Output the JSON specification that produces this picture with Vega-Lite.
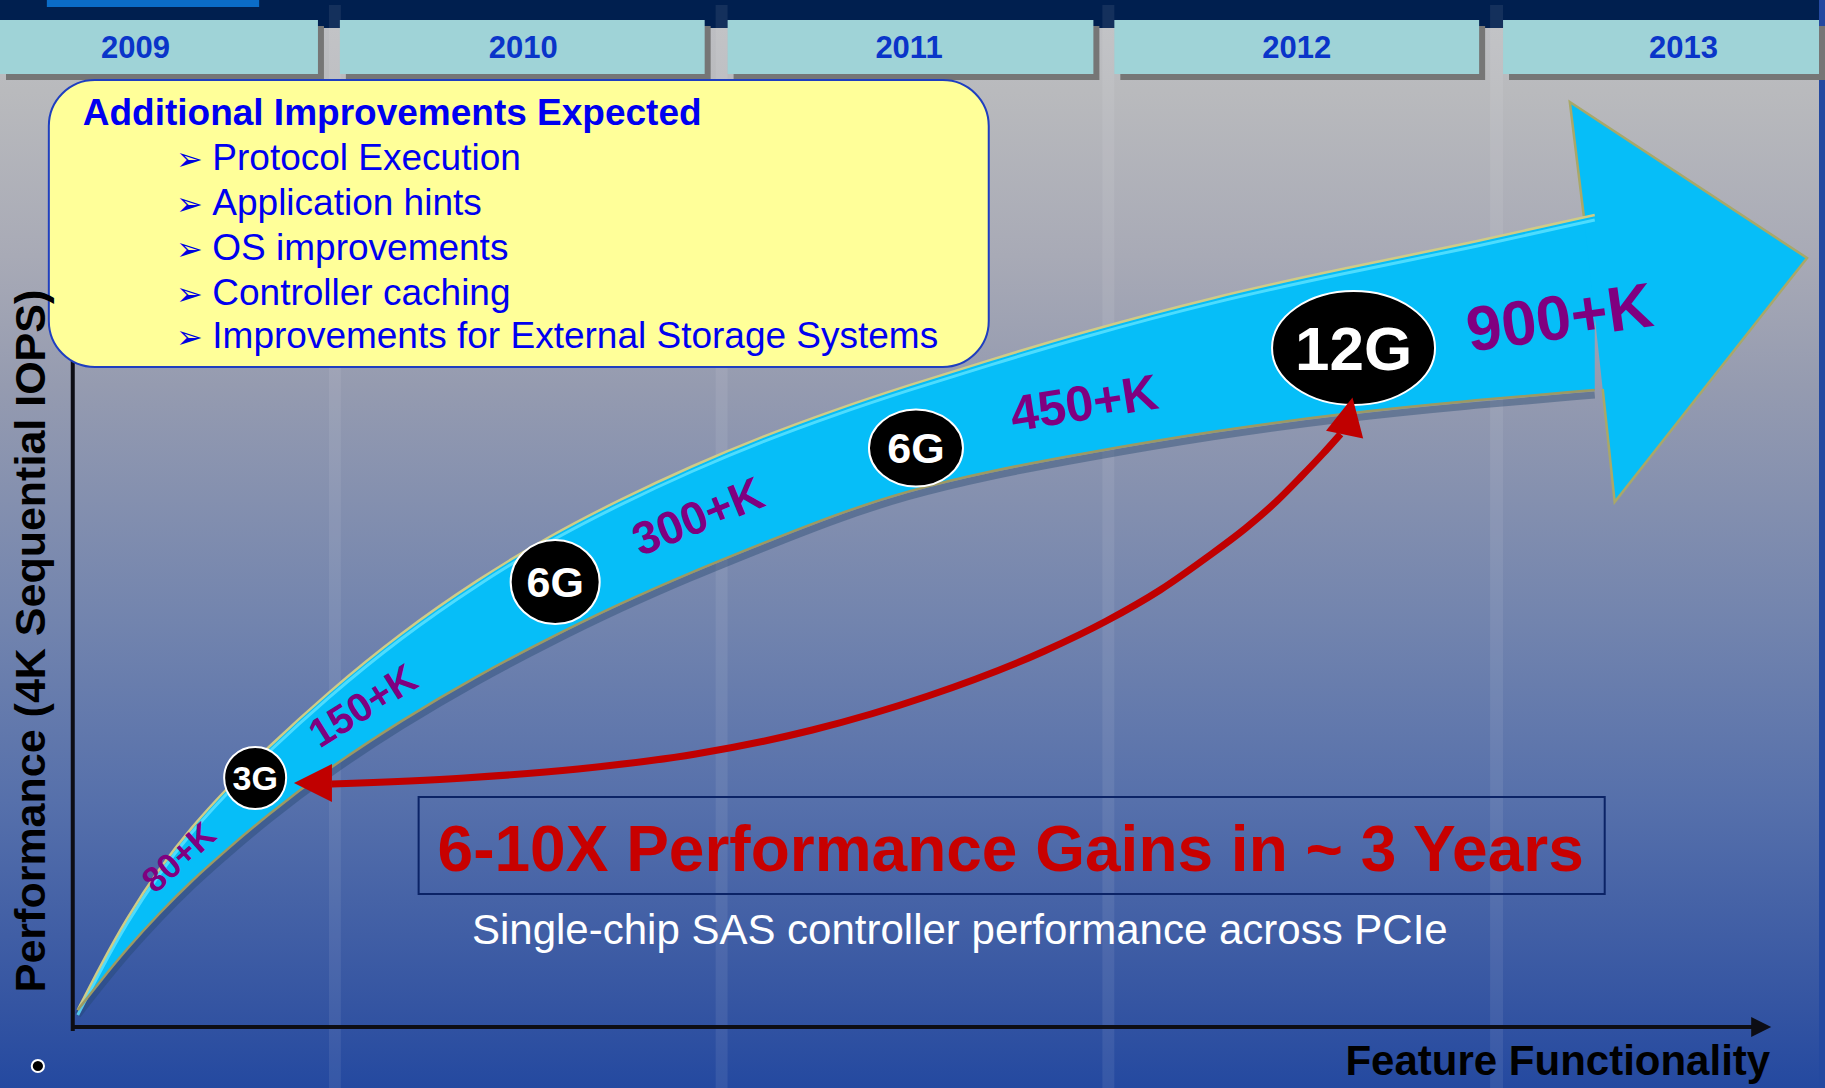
{
  "$schema": "https://vega.github.io/schema/vega-lite/v6.json",
  "autosize": {"type": "fit", "contains": "padding"},
  "width": 1825,
  "height": 1088,
  "padding": 0,
  "background": "#2449a0",
  "config": {"view": {"stroke": null}, "text": {"font": "Liberation Sans"}},
  "datasets": {
    "body": [
      {"x": 78, "y": 1010, "y2": 1010}, {"x": 100, "y": 967, "y2": 982}, {"x": 127, "y": 918, "y2": 949},
      {"x": 160, "y": 868, "y2": 913}, {"x": 193, "y": 826, "y2": 880}, {"x": 227, "y": 789, "y2": 850},
      {"x": 267, "y": 749, "y2": 816}, {"x": 327, "y": 694, "y2": 770}, {"x": 403, "y": 632, "y2": 720},
      {"x": 480, "y": 579, "y2": 675}, {"x": 551, "y": 536, "y2": 638}, {"x": 623, "y": 499, "y2": 603},
      {"x": 694, "y": 466, "y2": 572}, {"x": 766, "y": 436, "y2": 543}, {"x": 837, "y": 410, "y2": 515},
      {"x": 909, "y": 386, "y2": 491}, {"x": 993, "y": 360, "y2": 471}, {"x": 1083, "y": 333, "y2": 454},
      {"x": 1217, "y": 297, "y2": 431}, {"x": 1350, "y": 268, "y2": 413}, {"x": 1470, "y": 244, "y2": 401},
      {"x": 1600, "y": 215, "y2": 390}
    ],
    "head": [
      {"i": 1, "x": 1608, "y": 389}, {"i": 2, "x": 1620, "y": 502}, {"i": 3, "x": 1813, "y": 258},
      {"i": 4, "x": 1575, "y": 102}, {"i": 5, "x": 1589, "y": 216}
    ],
    "tabs": [
      {"year": "2009", "x": 0, "x2": 319, "y": 20, "y2": 74, "tx": 136},
      {"year": "2010", "x": 341, "x2": 707, "y": 20, "y2": 74, "tx": 525},
      {"year": "2011", "x": 730, "x2": 1097, "y": 20, "y2": 74, "tx": 912},
      {"year": "2012", "x": 1118, "x2": 1484, "y": 20, "y2": 74, "tx": 1301},
      {"year": "2013", "x": 1508, "x2": 1825, "y": 20, "y2": 74, "tx": 1689}
    ],
    "stripes": [
      {"x": 330, "x2": 342, "y": 5, "y2": 1088}, {"x": 718, "x2": 730, "y": 5, "y2": 1088},
      {"x": 1106, "x2": 1118, "y": 5, "y2": 1088}, {"x": 1495, "x2": 1508, "y": 5, "y2": 1088}
    ],
    "boxlines": [
      {"t": "Protocol Execution", "x": 213, "bx": 190, "y": 170}, {"t": "Application hints", "x": 213, "bx": 190, "y": 215},
      {"t": "OS improvements", "x": 213, "bx": 190, "y": 260}, {"t": "Controller caching", "x": 213, "bx": 190, "y": 305},
      {"t": "Improvements for External Storage Systems", "x": 213, "bx": 190, "y": 348}
    ],
    "chips": [
      {"id": "a", "chip": "3G", "x": 256, "y": 778}, {"id": "b", "chip": "6G", "x": 557, "y": 582},
      {"id": "c", "chip": "6G", "x": 919, "y": 448}, {"id": "d", "chip": "12G", "x": 1358, "y": 348}
    ],
    "red": [
      {"x": 333, "y": 784}, {"x": 466, "y": 778}, {"x": 580, "y": 769}, {"x": 698, "y": 754},
      {"x": 815, "y": 730}, {"x": 931, "y": 696}, {"x": 1048, "y": 651}, {"x": 1110, "y": 621},
      {"x": 1164, "y": 590}, {"x": 1210, "y": 558}, {"x": 1250, "y": 528}, {"x": 1280, "y": 502},
      {"x": 1305, "y": 477}, {"x": 1327, "y": 454}, {"x": 1345, "y": 434}
    ]
  },
  "encoding": {
    "x": {"field": "x", "type": "quantitative", "scale": {"domain": [0, 1825], "nice": false, "zero": false}, "axis": null},
    "y": {"field": "y", "type": "quantitative", "scale": {"domain": [0, 1088], "nice": false, "zero": false, "reverse": true}, "axis": null}
  },
  "layer": [
    {
      "data": {"values": [{"x": 0, "x2": 1825, "y": 28, "y2": 1088}]},
      "mark": {"type": "rect", "fill": {"gradient": "linear", "x1": 0, "y1": 0, "x2": 0, "y2": 1, "stops": [
        {"offset": 0, "color": "#bdbec2"}, {"offset": 0.06, "color": "#b9babd"}, {"offset": 0.215, "color": "#a8aab6"},
        {"offset": 0.337, "color": "#959bb0"}, {"offset": 0.56, "color": "#7284ae"}, {"offset": 0.73, "color": "#5670ab"},
        {"offset": 0.92, "color": "#3555a2"}, {"offset": 1, "color": "#2449a0"}]}},
      "encoding": {"x2": {"field": "x2"}, "y2": {"field": "y2"}}
    },
    {
      "data": {"values": [{"x": 0, "x2": 1825, "y": 0, "y2": 28}]},
      "mark": {"type": "rect", "fill": "#001f4f"},
      "encoding": {"x2": {"field": "x2"}, "y2": {"field": "y2"}}
    },
    {
      "data": {"values": [{"x": 47, "x2": 260, "y": 0, "y2": 7}]},
      "mark": {"type": "rect", "fill": "#0b6cc7"},
      "encoding": {"x2": {"field": "x2"}, "y2": {"field": "y2"}}
    },
    {
      "data": {"name": "stripes"},
      "mark": {"type": "rect", "fill": "#ffffff", "opacity": 0.08},
      "encoding": {"x2": {"field": "x2"}, "y2": {"field": "y2"}}
    },
    {
      "data": {"name": "tabs"},
      "mark": {"type": "rect", "fill": "#767676", "xOffset": 6, "x2Offset": 6, "yOffset": 6, "y2Offset": 6},
      "encoding": {"x2": {"field": "x2"}, "y2": {"field": "y2"}}
    },
    {
      "data": {"name": "tabs"},
      "mark": {"type": "rect", "fill": "#9fd3d7"},
      "encoding": {"x2": {"field": "x2"}, "y2": {"field": "y2"}}
    },
    {
      "data": {"name": "tabs"},
      "mark": {"type": "text", "fontSize": 31, "fontWeight": "bold", "fill": "#0a35c9", "align": "center", "baseline": "alphabetic", "dy": 11},
      "encoding": {"x": {"field": "tx", "type": "quantitative"}, "y": {"datum": 47}, "text": {"field": "year"}}
    },
    {
      "data": {"values": [{"x": 73, "y": 330, "y2": 1031}]},
      "mark": {"type": "rule", "stroke": "#0d0d14", "strokeWidth": 4},
      "encoding": {"y2": {"field": "y2"}}
    },
    {
      "data": {"values": [{"x": 73, "x2": 1762, "y": 1027}]},
      "mark": {"type": "rule", "stroke": "#0d0d14", "strokeWidth": 4},
      "encoding": {"x2": {"field": "x2"}}
    },
    {
      "data": {"values": [{"x": 1767, "y": 1027}]},
      "mark": {"type": "point", "shape": "M 1 0 L -1 -1 L -1 1 Z", "size": 400, "filled": true, "fill": "#0d0d14", "opacity": 1, "strokeWidth": 0}
    },
    {
      "data": {"name": "body"},
      "mark": {"type": "line", "interpolate": "basis", "stroke": "#23456e", "strokeWidth": 7, "opacity": 0.4, "yOffset": 5},
      "encoding": {"y": {"field": "y2", "type": "quantitative"}}
    },
    {
      "data": {"name": "body"},
      "mark": {"type": "area", "interpolate": "basis", "fill": "#06bef8", "opacity": 1},
      "encoding": {"y2": {"field": "y2"}}
    },
    {
      "data": {"name": "head"},
      "mark": {"type": "line", "filled": true, "fill": "#06bef8", "stroke": "#a9a868", "strokeWidth": 2.5, "strokeJoin": "miter", "opacity": 1},
      "encoding": {"order": {"field": "i", "type": "quantitative"}}
    },
    {
      "data": {"name": "body"},
      "mark": {"type": "line", "interpolate": "basis", "stroke": "#5fe4ff", "strokeWidth": 3, "opacity": 0.8, "yOffset": 5}
    },
    {
      "data": {"name": "body"},
      "mark": {"type": "line", "interpolate": "basis", "stroke": "#cfcc86", "strokeWidth": 2.5}
    },
    {
      "data": {"name": "body"},
      "mark": {"type": "line", "interpolate": "basis", "stroke": "#9c9a63", "strokeWidth": 2.5},
      "encoding": {"y": {"field": "y2", "type": "quantitative"}}
    },
    {
      "data": {"values": [{"x": 49, "x2": 992, "y": 80, "y2": 367}]},
      "mark": {"type": "rect", "fill": "#ffff99", "stroke": "#1f3fc0", "strokeWidth": 2, "cornerRadius": 46},
      "encoding": {"x2": {"field": "x2"}, "y2": {"field": "y2"}}
    },
    {
      "data": {"values": [{"x": 83, "y": 125, "t": "Additional Improvements Expected"}]},
      "mark": {"type": "text", "fontSize": 37, "fontWeight": "bold", "fill": "#0000f0", "align": "left", "baseline": "alphabetic"},
      "encoding": {"text": {"field": "t"}}
    },
    {
      "data": {"name": "boxlines"},
      "mark": {"type": "text", "text": "➢", "font": "DejaVu Sans", "fontSize": 32, "fill": "#0000e0", "align": "center", "baseline": "alphabetic", "dy": 0},
      "encoding": {"x": {"field": "bx", "type": "quantitative"}}
    },
    {
      "data": {"name": "boxlines"},
      "mark": {"type": "text", "fontSize": 37, "fill": "#0000f0", "align": "left", "baseline": "alphabetic"},
      "encoding": {"text": {"field": "t"}}
    },
    {
      "data": {"name": "chips"},
      "mark": {"type": "point", "size": 10000, "filled": true, "fill": "#000000", "stroke": "#ffffff", "strokeWidth": 2, "opacity": 1},
      "encoding": {"shape": {"field": "id", "type": "nominal", "legend": null, "scale": {"domain": ["a", "b", "c", "d"], "range": [
        "M -0.62 0 A 0.62 0.62 0 1 0 0.62 0 A 0.62 0.62 0 1 0 -0.62 0 Z",
        "M -0.89 0 A 0.89 0.84 0 1 0 0.89 0 A 0.89 0.84 0 1 0 -0.89 0 Z",
        "M -0.94 0 A 0.94 0.77 0 1 0 0.94 0 A 0.94 0.77 0 1 0 -0.94 0 Z",
        "M -1.63 0 A 1.63 1.14 0 1 0 1.63 0 A 1.63 1.14 0 1 0 -1.63 0 Z"]}}}
    },
    {
      "data": {"name": "chips"},
      "transform": [{"filter": "datum.id === 'a'"}],
      "mark": {"type": "text", "fontSize": 34, "fontWeight": "bold", "fill": "#ffffff", "align": "center", "baseline": "middle", "dy": 2},
      "encoding": {"text": {"field": "chip"}}
    },
    {
      "data": {"name": "chips"},
      "transform": [{"filter": "datum.id === 'b' || datum.id === 'c'"}],
      "mark": {"type": "text", "fontSize": 43, "fontWeight": "bold", "fill": "#ffffff", "align": "center", "baseline": "middle", "dy": 2},
      "encoding": {"text": {"field": "chip"}}
    },
    {
      "data": {"name": "chips"},
      "transform": [{"filter": "datum.id === 'd'"}],
      "mark": {"type": "text", "fontSize": 62, "fontWeight": "bold", "fill": "#ffffff", "align": "center", "baseline": "middle", "dy": 3},
      "encoding": {"text": {"field": "chip"}}
    },
    {
      "data": {"values": [{"x": 180, "y": 858, "t": "80+K"}]},
      "mark": {"type": "text", "fontSize": 35, "fontWeight": "bold", "fill": "#800080", "align": "center", "baseline": "middle", "angle": 318},
      "encoding": {"text": {"field": "t"}}
    },
    {
      "data": {"values": [{"x": 365, "y": 707, "t": "150+K"}]},
      "mark": {"type": "text", "fontSize": 40, "fontWeight": "bold", "fill": "#800080", "align": "center", "baseline": "middle", "angle": 328},
      "encoding": {"text": {"field": "t"}}
    },
    {
      "data": {"values": [{"x": 701, "y": 518, "t": "300+K"}]},
      "mark": {"type": "text", "fontSize": 46, "fontWeight": "bold", "fill": "#800080", "align": "center", "baseline": "middle", "angle": 338},
      "encoding": {"text": {"field": "t"}}
    },
    {
      "data": {"values": [{"x": 1088, "y": 405, "t": "450+K"}]},
      "mark": {"type": "text", "fontSize": 50, "fontWeight": "bold", "fill": "#800080", "align": "center", "baseline": "middle", "angle": 351},
      "encoding": {"text": {"field": "t"}}
    },
    {
      "data": {"values": [{"x": 1565, "y": 320, "t": "900+K"}]},
      "mark": {"type": "text", "fontSize": 63, "fontWeight": "bold", "fill": "#800080", "align": "center", "baseline": "middle", "angle": 352},
      "encoding": {"text": {"field": "t"}}
    },
    {
      "data": {"name": "red"},
      "mark": {"type": "line", "interpolate": "monotone", "stroke": "#c00000", "strokeWidth": 7}
    },
    {
      "data": {"values": [{"x": 314, "y": 783}]},
      "mark": {"type": "point", "shape": "M -1 0 L 1 -1 L 1 1 Z", "size": 1444, "filled": true, "fill": "#c00000", "opacity": 1, "strokeWidth": 0}
    },
    {
      "data": {"values": [{"x": 1353, "y": 416}]},
      "mark": {"type": "point", "shape": "M 0 -1 L 1 1 L -1 1 Z", "size": 1444, "angle": 12, "filled": true, "fill": "#c00000", "opacity": 1, "strokeWidth": 0}
    },
    {
      "data": {"values": [{"x": 420, "x2": 1610, "y": 797, "y2": 894}]},
      "mark": {"type": "rect", "fill": null, "fillOpacity": 0, "stroke": "#0b2366", "strokeWidth": 2},
      "encoding": {"x2": {"field": "x2"}, "y2": {"field": "y2"}}
    },
    {
      "data": {"values": [{"x": 1014, "y": 871, "t": "6-10X Performance Gains in ~ 3 Years"}]},
      "mark": {"type": "text", "fontSize": 64, "fontWeight": "bold", "fill": "#c80000", "align": "center", "baseline": "alphabetic"},
      "encoding": {"text": {"field": "t"}}
    },
    {
      "data": {"values": [{"x": 963, "y": 944, "t": "Single-chip SAS controller performance across PCIe"}]},
      "mark": {"type": "text", "fontSize": 42, "fill": "#ffffff", "align": "center", "baseline": "alphabetic"},
      "encoding": {"text": {"field": "t"}}
    },
    {
      "data": {"values": [{"x": 45, "y": 641, "t": "Performance (4K Sequential IOPS)"}]},
      "mark": {"type": "text", "fontSize": 43, "fontWeight": "bold", "fill": "#000000", "align": "center", "baseline": "alphabetic", "angle": 270},
      "encoding": {"text": {"field": "t"}}
    },
    {
      "data": {"values": [{"x": 1776, "y": 1075, "t": "Feature Functionality"}]},
      "mark": {"type": "text", "fontSize": 42, "fontWeight": "bold", "fill": "#000000", "align": "right", "baseline": "alphabetic"},
      "encoding": {"text": {"field": "t"}}
    },
    {
      "data": {"values": [{"x": 38, "y": 1066}]},
      "mark": {"type": "point", "shape": "circle", "size": 150, "filled": true, "fill": "#000000", "stroke": "#ffffff", "strokeWidth": 2, "opacity": 1}
    }
  ]
}
